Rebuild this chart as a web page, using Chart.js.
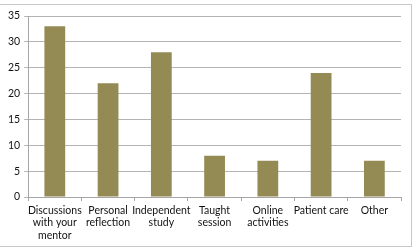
<!DOCTYPE html>
<html>
<head>
<meta charset="utf-8">
<script src="https://cdn.jsdelivr.net/npm/chart.js@4.4.0/dist/chart.umd.min.js"></script>
<style>
  html, body { margin: 0; padding: 0; background: #fff; }
  #frame { position: absolute; left: 0; top: 4px; width: 411px; height: 241px; border: 1px solid #c8c8c8; border-left: none; }
  #wrap { position: absolute; left: 0; top: 0; width: 417px; height: 250px; }
</style>
</head>
<body>
<div id="frame"></div>
<div id="wrap"><canvas id="chart" width="417" height="250"></canvas></div>
<script>
// Learning activity categories and counts
var categories = [
    ['Discussions', 'with your', 'mentor'],
    ['Personal', 'reflection'],
    ['Independent', 'study'],
    ['Taught', 'session'],
    ['Online', 'activities'],
    'Patient care',
    'Other'
];
var counts = [33, 22, 28, 8, 7, 24, 7];
var yTicks = [0, 5, 10, 15, 20, 25, 30, 35];

var ctx = document.getElementById('chart').getContext('2d');
var chart = new Chart(ctx, {
    type: 'bar',
    data: {
        labels: categories,
        datasets: [{
            data: counts,
            backgroundColor: '#948a54',
            borderWidth: 0,
            categoryPercentage: 1,
            barPercentage: 0.39
        }]
    },
    options: {
        responsive: false,
        animation: false,
        layout: { padding: { top: 16, right: 16, left: 4, bottom: 8 } },
        plugins: {
            legend: { display: false },
            tooltip: { enabled: false }
        },
        scales: {
            x: {
                afterFit: function(axis) { axis.height = 45; },
                grid: {
                    offset: true,
                    drawOnChartArea: false,
                    drawTicks: true,
                    tickLength: 4,
                    color: '#a6a6a6'
                },
                border: { color: '#a6a6a6' },
                ticks: {
                    color: '#111',
                    font: { family: 'Lato', size: 10.5, lineHeight: 1.2 },
                    maxRotation: 0,
                    autoSkip: false,
                    padding: 3
                }
            },
            y: {
                min: 0,
                max: 35,
                afterBuildTicks: function(axis) {
                    axis.ticks = yTicks.map(function(v) { return { value: v }; });
                },
                grid: {
                    color: '#b4b4b4',
                    tickLength: 4
                },
                border: { color: '#a6a6a6' },
                ticks: {
                    color: '#111',
                    font: { family: 'Lato', size: 10.5 },
                    padding: 4
                }
            }
        }
    }
});
</script>
</body>
</html>
